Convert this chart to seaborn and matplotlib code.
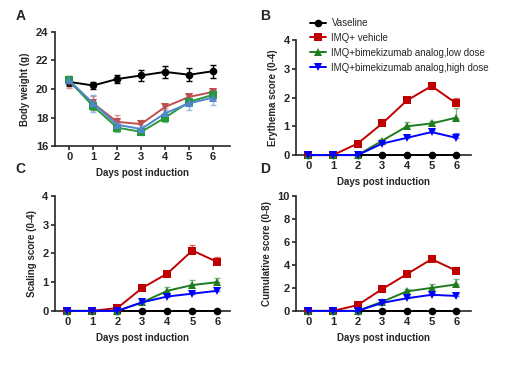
import numpy as np
import pandas as pd
import matplotlib
matplotlib.use("Agg")
import matplotlib.pyplot as plt
import seaborn as sns

sns.set_style("ticks")
plt.rcParams['font.family'] = ['Liberation Sans', 'DejaVu Sans']

days = [0, 1, 2, 3, 4, 5, 6]
groups = ["Vaseline", "IMQ+ vehicle", "IMQ+bimekizumab analog,low dose",
          "IMQ+bimekizumab analog,high dose"]

# body weight (g)
bw_vas = [20.5, 20.25, 20.7, 20.95, 21.2, 21.0, 21.25]
bw_veh = [20.5, 19.0, 17.7, 17.55, 18.75, 19.45, 19.8]
bw_low = [20.6, 18.8, 17.3, 17.0, 18.0, 19.1, 19.6]
bw_high = [20.6, 19.0, 17.5, 17.2, 18.3, 19.0, 19.4]
bw_vas_err = [0.3, 0.25, 0.3, 0.4, 0.4, 0.45, 0.45]
bw_veh_err = [0.4, 0.5, 0.5, 0.3, 0.2, 0.2, 0.2]
bw_low_err = [0.3, 0.3, 0.3, 0.25, 0.3, 0.3, 0.3]
bw_high_err = [0.3, 0.6, 0.4, 0.3, 0.4, 0.5, 0.5]

# erythema score
er_vas = [0, 0, 0, 0, 0, 0, 0]
er_veh = [0, 0, 0.4, 1.1, 1.9, 2.4, 1.8]
er_low = [0, 0, 0, 0.5, 1.0, 1.1, 1.3]
er_high = [0, 0, 0, 0.4, 0.6, 0.8, 0.6]
er_veh_err = [0, 0, 0.05, 0.05, 0.05, 0.05, 0.2]
er_low_err = [0, 0, 0, 0.05, 0.15, 0.1, 0.33]
er_high_err = [0, 0, 0, 0.05, 0.05, 0.08, 0.17]

# scaling score
sc_vas = [0, 0, 0, 0, 0, 0, 0]
sc_veh = [0, 0, 0.1, 0.8, 1.3, 2.1, 1.7]
sc_low = [0, 0, 0, 0.3, 0.7, 0.9, 1.0]
sc_high = [0, 0, 0, 0.3, 0.5, 0.6, 0.7]
sc_veh_err = [0, 0, 0.05, 0.08, 0.08, 0.2, 0.18]
sc_low_err = [0, 0, 0, 0.05, 0.12, 0.18, 0.15]
sc_high_err = [0, 0, 0, 0.08, 0.05, 0.05, 0.08]

# cumulative score
cu_vas = [0, 0, 0, 0, 0, 0, 0]
cu_veh = [0, 0, 0.5, 1.9, 3.2, 4.5, 3.5]
cu_low = [0, 0, 0, 0.8, 1.7, 2.0, 2.3]
cu_high = [0, 0, 0, 0.7, 1.1, 1.4, 1.3]
cu_veh_err = [0, 0, 0.1, 0.1, 0.1, 0.2, 0.3]
cu_low_err = [0, 0, 0, 0.1, 0.2, 0.3, 0.5]
cu_high_err = [0, 0, 0, 0.1, 0.1, 0.15, 0.2]

zero = [0] * 7

colors = ["black", "#c00000", "#1e7b1e", "#0000ff"]
colors_a = ["black", "#c0504d", "#249a3c", "#4f86cf"]
markers_a = ["o", "v", "s", "^"]
markers = ["o", "s", "^", "v"]


def long_df(series):
    rows = []
    for g, vals in zip(groups, series):
        for d, v in zip(days, vals):
            rows.append({"day": d, "value": v, "group": g})
    return pd.DataFrame(rows)


def draw(ax, series, errs, cols, marks, upper_only):
    df = long_df(series)
    for g, vals, e, c, m in zip(groups, series, errs, cols, marks):
        if upper_only:
            yerr = [zero, e]
        else:
            yerr = e
        ax.errorbar(days, vals, yerr=yerr, fmt="none", ecolor=c, alpha=0.55 if c != "black" else 1,
                    elinewidth=1, capsize=2.5, capthick=1, zorder=2)
    sns.lineplot(data=df, x="day", y="value", hue="group", style="group",
                 palette=dict(zip(groups, cols)), markers=dict(zip(groups, marks)),
                 dashes=False, markersize=5.5, markeredgewidth=0, linewidth=1.4,
                 ax=ax, legend=False, zorder=3)
    ax.set_xticks(days)
    ax.set_xlabel("Days post induction", fontsize=7, fontweight="bold")
    for sp in ["top", "right"]:
        ax.spines[sp].set_visible(False)
    for sp in ["left", "bottom"]:
        ax.spines[sp].set_linewidth(1.2)
    ax.tick_params(labelsize=8, width=1.2, length=3, pad=1.5)
    for lab in ax.get_xticklabels() + ax.get_yticklabels():
        lab.set_fontweight("bold")


fig = plt.figure(figsize=(5.12, 3.71), dpi=100)
axA = fig.add_axes([0.107, 0.606, 0.342, 0.308])
axB = fig.add_axes([0.578, 0.582, 0.342, 0.31])
axC = fig.add_axes([0.107, 0.162, 0.342, 0.31])
axD = fig.add_axes([0.578, 0.162, 0.342, 0.31])

draw(axA, [bw_vas, bw_veh, bw_low, bw_high],
     [bw_vas_err, bw_veh_err, bw_low_err, bw_high_err], colors_a, markers_a, False)
axA.set_ylim(16, 24)
axA.set_yticks([16, 18, 20, 22, 24])
axA.set_xlim(-0.6, 6.7)
axA.set_ylabel("Body weight (g)", fontsize=7, fontweight="bold")

draw(axB, [er_vas, er_veh, er_low, er_high],
     [zero, er_veh_err, er_low_err, er_high_err], colors, markers, True)
axB.set_ylim(0, 4)
axB.set_yticks([0, 1, 2, 3, 4])
axB.set_xlim(-0.5, 6.6)
axB.set_ylabel("Erythema score (0-4)", fontsize=7, fontweight="bold")

draw(axC, [sc_vas, sc_veh, sc_low, sc_high],
     [zero, sc_veh_err, sc_low_err, sc_high_err], colors, markers, True)
axC.set_ylim(0, 4)
axC.set_yticks([0, 1, 2, 3, 4])
axC.set_xlim(-0.5, 6.5)
axC.set_ylabel("Scaling score (0-4)", fontsize=7, fontweight="bold")

draw(axD, [cu_vas, cu_veh, cu_low, cu_high],
     [zero, cu_veh_err, cu_low_err, cu_high_err], colors, markers, True)
axD.set_ylim(0, 10)
axD.set_yticks([0, 2, 4, 6, 8, 10])
axD.set_xlim(-0.5, 6.6)
axD.set_ylabel("Cumulative score (0-8)", fontsize=7, fontweight="bold")

for ax in [axB, axC, axD]:
    for ln in ax.lines:
        ln.set_clip_on(False)

# legend for the score panels
handles = [plt.Line2D([], [], color=c, marker=m, markersize=5.5, markeredgewidth=0, linewidth=1.4)
           for c, m in zip(colors, markers)]
fig.legend(handles, groups, loc="upper left", bbox_to_anchor=(0.598, 0.962),
           frameon=False, fontsize=7, handlelength=1.6, handletextpad=0.6,
           labelspacing=0.5, borderaxespad=0)

for lab, x, y in [("A", 0.03, 0.975), ("B", 0.508, 0.975), ("C", 0.03, 0.562), ("D", 0.508, 0.562)]:
    fig.text(x, y, lab, fontsize=10, fontweight="bold", va="top")

fig.savefig("out.png", dpi=100)
